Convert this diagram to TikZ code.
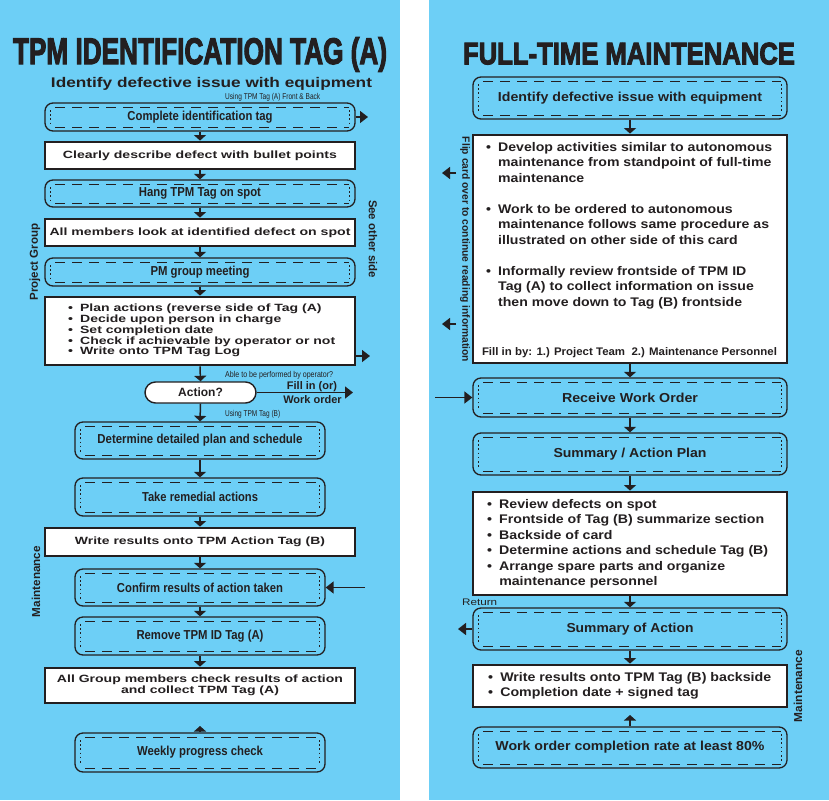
\documentclass[tikz,border=0pt]{standalone}
\usepackage{fontspec}
\usepackage{graphicx}
\setmainfont{Liberation Sans}
\newfontfamily\titlefont{Liberation Sans}[BoldFeatures={FakeBold=3.5}]
\usetikzlibrary{arrows.meta}
\definecolor{bluebg}{RGB}{109,207,246}
\definecolor{ink}{RGB}{35,31,32}
\newcommand\fitw[2]{\resizebox{#1}{\height}{#2}}
\tikzset{
  every node/.style={text=ink},
  dbox/.style={draw=ink, line width=1.3pt, rounded corners=8pt, inner sep=0pt,
    font=\fontsize{13}{15}\selectfont\bfseries,
    path picture={
      \draw[ink, line width=1pt, dash pattern=on 10pt off 7pt, dash phase=-4pt]
        ([xshift=6pt,yshift=-4pt]path picture bounding box.north west) -- ([xshift=-6pt,yshift=-4pt]path picture bounding box.north east)
        ([xshift=6pt,yshift=4pt]path picture bounding box.south west) -- ([xshift=-6pt,yshift=4pt]path picture bounding box.south east);
      \draw[ink, line width=1.6pt, dash pattern=on 1.6pt off 2.6pt]
        ([xshift=5.5pt,yshift=-7pt]path picture bounding box.north west) -- ([xshift=5.5pt,yshift=7pt]path picture bounding box.south west)
        ([xshift=-5.5pt,yshift=-7pt]path picture bounding box.north east) -- ([xshift=-5.5pt,yshift=7pt]path picture bounding box.south east);
    }},
  wbox/.style={draw=ink, fill=white, line width=2.8pt, inner sep=0pt,
    font=\fontsize{10.5}{12}\selectfont\bfseries},
  arr/.style={draw=ink, line width=1.5pt, -{Triangle[width=12pt,length=5.5pt]}},
  arrl/.style={draw=ink, line width=1.5pt, -{Triangle[width=12pt,length=8pt]}},
  lbl/.style={inner sep=0pt, font=\fontsize{11.5}{13}\selectfont\bfseries},
  cond/.style={inner sep=0pt, font=\fontsize{8.5}{10}\selectfont},
}
\begin{document}
\begin{tikzpicture}[x=1pt,y=-1pt]
\useasboundingbox (0,0) rectangle (829,800);
\fill[white] (0,0) rectangle (829,800);
\fill[bluebg] (0,0) rectangle (400,800);
\fill[bluebg] (429,0) rectangle (829,800);

% ---------------- left panel ----------------
\node[inner sep=0pt, anchor=base, font=\titlefont\fontsize{37}{40}\selectfont\bfseries] (ltitle) at (200,64) {\fitw{374pt}{TPM IDENTIFICATION TAG (A)}};
\node[inner sep=0pt, anchor=base, font=\fontsize{14}{16}\selectfont\bfseries] (lsub) at (211.5,87.3) {\fitw{321pt}{Identify defective issue with equipment}};
\node[cond, anchor=base west] (usea) at (225,99.5) {\fitw{95pt}{Using TPM Tag (A) Front \& Back}};

\node[dbox, minimum width=310pt, minimum height=28pt] (b1) at (200,117) {\fitw{145pt}{Complete identification tag}};
\node[wbox, minimum width=310pt, minimum height=27pt] (b2) at (200,155.5) {\fitw{274pt}{Clearly describe defect with bullet points}};
\node[dbox, minimum width=310pt, minimum height=27pt] (b3) at (200,193.5) {\fitw{122pt}{Hang TPM Tag on spot}};
\node[wbox, minimum width=310pt, minimum height=27pt] (b4) at (200,232.5) {\fitw{301pt}{All members look at identified defect on spot}};
\node[dbox, minimum width=310pt, minimum height=28pt] (b5) at (200,272) {\fitw{99pt}{PM group meeting}};
\node[wbox, minimum width=310pt, minimum height=68pt] (b6) at (200,331) {};
\node[anchor=west, inner sep=0pt, font=\fontsize{10.5}{10.7}\selectfont\bfseries] (b6t) at (68,331) {\fitw{267pt}{\begin{tabular}{@{}l@{\hspace{0.5em}}l@{}}
• & Plan actions (reverse side of Tag (A)\\
• & Decide upon person in charge\\
• & Set completion date\\
• & Check if achievable by operator or not\\
• & Write onto TPM Tag Log
\end{tabular}}};
\node[cond, anchor=base west] (ablet) at (225,377) {\fitw{108pt}{Able to be performed by operator?}};
\node[draw=ink, fill=white, line width=1.4pt, rounded corners=10.5pt, minimum width=111pt, minimum height=21pt, inner sep=0pt, font=\fontsize{12}{14}\selectfont\bfseries] (act) at (200.5,392.5) {Action?};
\node[inner sep=0pt, anchor=base, font=\fontsize{11}{13}\selectfont\bfseries] (fillin) at (312,389.5) {Fill in (or)};
\node[inner sep=0pt, anchor=base, font=\fontsize{11}{13}\selectfont\bfseries] (worder) at (312.5,403.5) {Work order};
\node[cond, anchor=base west] (useb) at (225,416) {\fitw{55pt}{Using TPM Tag (B)}};

\node[dbox, minimum width=250pt, minimum height=37pt] (b7) at (200,440.5) {\fitw{205pt}{Determine detailed plan and schedule}};
\node[dbox, minimum width=250pt, minimum height=38pt] (b8) at (200,497) {\fitw{116pt}{Take remedial actions}};
\node[wbox, minimum width=310pt, minimum height=28pt] (b9) at (200,542) {\fitw{250pt}{Write results onto TPM Action Tag (B)}};
\node[dbox, minimum width=250pt, minimum height=37pt] (b10) at (200,587.5) {\fitw{166pt}{Confirm results of action taken}};
\node[dbox, minimum width=250pt, minimum height=38pt] (b11) at (200,636) {\fitw{127pt}{Remove TPM ID Tag (A)}};
\node[wbox, minimum width=310pt, minimum height=35pt, font=\fontsize{10.5}{10}\selectfont\bfseries] (b12) at (200,685.5) {\fitw{286pt}{\begin{tabular}{@{}c@{}}All Group members check results of action\\ and collect TPM Tag (A)\end{tabular}}};
\node[dbox, minimum width=250pt, minimum height=39pt] (b13) at (200,752.5) {\fitw{126pt}{Weekly progress check}};

\node[lbl, rotate=90] (pgroup) at (35,262) {\fitw{77pt}{Project Group}};
\node[lbl, rotate=-90] (seeother) at (373,239) {\fitw{78pt}{See other side}};
\node[lbl, rotate=90] (lmaint) at (36,581.5) {\fitw{71pt}{Maintenance}};

\coordinate (e1) at (368,117);
\coordinate (e6) at (370,356);
\coordinate (eact) at (353,392.5);
\coordinate (s10) at (365,587.5);
\coordinate (t13) at (200,726);
\draw[arrl] (b1.east) -- (e1);
\draw[arr] (b1.south) -- (b2.north);
\draw[arr] (b2.south) -- (b3.north);
\draw[arr] (b3.south) -- (b4.north);
\draw[arr] (b4.south) -- (b5.north);
\draw[arr] (b5.south) -- (b6.north);
\draw[arrl] (b6.east |- e6) -- (e6);
\draw[arr] (b6.south) -- (act.north);
\draw[arrl] (act.east) -- (eact);
\draw[arr] (act.south) -- (b7.north);
\draw[arr] (b7.south) -- (b8.north);
\draw[arr] (b8.south) -- (b9.north);
\draw[arr] (b9.south) -- (b10.north);
\draw[arrl] (s10) -- (b10.east);
\draw[arr] (b10.south) -- (b11.north);
\draw[arr] (b11.south) -- (b12.north);
\draw[arr] (b13.north) -- (t13);

% ---------------- right panel ----------------
\node[inner sep=0pt, anchor=base, font=\titlefont\fontsize{31}{35}\selectfont\bfseries] (rtitle) at (629,64.3) {\fitw{332pt}{FULL-TIME MAINTENANCE}};

\node[dbox, minimum width=314pt, minimum height=42pt] (r1) at (630,98) {\fitw{264pt}{Identify defective issue with equipment}};
\node[wbox, minimum width=314pt, minimum height=228pt] (r2) at (630,249) {};
\node[anchor=west, inner sep=0pt, font=\fontsize{12.5}{15.5}\selectfont\bfseries] (r2t) at (486,225.5) {\fitw{286pt}{\begin{tabular}{@{}l@{\hspace{0.5em}}l@{}}
• & Develop activities similar to autonomous\\
 & maintenance from standpoint of full-time\\
 & maintenance\\
 & \\
• & Work to be ordered to autonomous\\
 & maintenance follows same procedure as\\
 & illustrated on other side of this card\\
 & \\
• & Informally review frontside of TPM ID\\
 & Tag (A) to collect information on issue\\
 & then move down to Tag (B) frontside
\end{tabular}}};
\node[inner sep=0pt, font=\fontsize{11}{13}\selectfont\bfseries] (r2f) at (629.5,353) {\fitw{295pt}{Fill in by: 1.) Project Team\ \ 2.) Maintenance Personnel}};

\node[dbox, minimum width=314pt, minimum height=39pt] (r3) at (630,397.5) {\fitw{136pt}{Receive Work Order}};
\node[dbox, minimum width=314pt, minimum height=42pt] (r4) at (630,454) {\fitw{153pt}{Summary / Action Plan}};
\node[wbox, minimum width=314pt, minimum height=103pt] (r5) at (630,543.5) {};
\node[anchor=west, inner sep=0pt, font=\fontsize{12.5}{15.5}\selectfont\bfseries] (r5t) at (487,543.7) {\fitw{281pt}{\begin{tabular}{@{}l@{\hspace{0.5em}}l@{}}
• & Review defects on spot\\
• & Frontside of Tag (B) summarize section\\
• & Backside of card\\
• & Determine actions and schedule Tag (B)\\
• & Arrange spare parts and organize\\
 & maintenance personnel
\end{tabular}}};
\node[inner sep=0pt, anchor=base west, font=\fontsize{9.5}{11}\selectfont] (ret) at (462,605) {\fitw{35pt}{Return}};
\node[dbox, minimum width=314pt, minimum height=42pt] (r6) at (630,629) {\fitw{127pt}{Summary of Action}};
\node[wbox, minimum width=314pt, minimum height=42pt] (r7) at (630,686) {};
\node[anchor=west, inner sep=0pt, font=\fontsize{12.5}{15}\selectfont\bfseries] (r7t) at (488,685.5) {\fitw{283pt}{\begin{tabular}{@{}l@{\hspace{0.5em}}l@{}}
• & Write results onto TPM Tag (B) backside\\
• & Completion date + signed tag
\end{tabular}}};
\node[dbox, minimum width=314pt, minimum height=41pt] (r8) at (630,747.5) {\fitw{269pt}{Work order completion rate at least 80\%}};

\node[lbl, rotate=-90, font=\fontsize{10.5}{12}\selectfont\bfseries] (flip) at (465,249.5) {\fitw{225pt}{Flip card over to continue reading information}};
\node[lbl, rotate=90] (rmaint) at (798,686) {\fitw{72pt}{Maintenance}};

\coordinate (fa1) at (456,173);
\coordinate (fa1t) at (442,173);
\coordinate (fa2) at (456,324);
\coordinate (fa2t) at (442,324);
\coordinate (sr3) at (435,397.5);
\coordinate (er6) at (458,629);
\coordinate (tr8) at (630,715);
\draw[arr] (r1.south) -- (r2.north);
\draw[arrl] (fa1) -- (fa1t);
\draw[arrl] (fa2) -- (fa2t);
\draw[arr] (r2.south) -- (r3.north);
\draw[arrl] (sr3) -- (r3.west);
\draw[arr] (r3.south) -- (r4.north);
\draw[arr] (r4.south) -- (r5.north);
\draw[arr] (r5.south) -- (r6.north);
\draw[arrl] (r6.west) -- (er6);
\draw[arr] (r6.south) -- (r7.north);
\draw[arr] (r8.north) -- (tr8);
\end{tikzpicture}
\end{document}
